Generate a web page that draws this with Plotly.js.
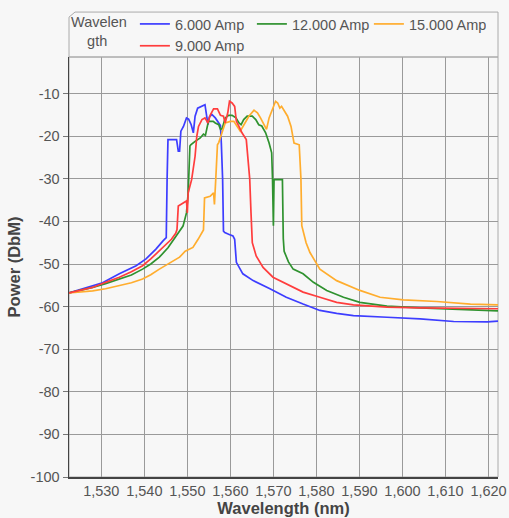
<!DOCTYPE html>
<html>
<head>
<meta charset="utf-8">
<script src="https://cdn.plot.ly/plotly-3.0.1.min.js"></script>
<style>
html,body{margin:0;padding:0;background:#f7f7f7;}
#chart{width:509px;height:518px;}
</style>
</head>
<body>
<div id="chart"></div>
<script>
// Series names / legend
const seriesNames = ['6.000 Amp', '9.000 Amp', '12.000 Amp', '15.000 Amp'];
const seriesColors = ['#3d3dff', '#ff3d3d', '#2f922f', '#ffad2e'];
const legendTitle = 'Wavelen<br>\u00a0\u00a0\u00a0\u00a0gth';

// 6.000 Amp
const amp6X = [1522.5,1525,1528,1530.3,1534.2,1538.1,1540.4,1542.7,1544.4,1545.1,1545.3,1545.5,1547.5,1547.9,1548.2,1548.5,1549.1,1549.8,1550.3,1550.9,1551.4,1551.8,1552.4,1553.4,1554.1,1554.5,1554.8,1555.1,1555.7,1556.5,1557.3,1557.7,1557.9,1558.2,1558.4,1558.7,1559.6,1560.6,1561.0,1561.4,1562.9,1565.3,1569.2,1573,1576.9,1580.8,1584.7,1588.6,1596.4,1604.1,1611.9,1619.7,1622.2];
const amp6Y = [-56.8,-56,-55.1,-54.4,-52.3,-50.4,-48.8,-46.5,-44.5,-43.8,-30,-20.8,-20.8,-23.5,-23.5,-18.8,-17.7,-15.7,-16,-17.3,-19.2,-15.3,-13.4,-13,-12.6,-15.3,-17.3,-15.5,-14.9,-15.7,-16.9,-17.5,-21.6,-30,-42.3,-42.6,-43,-43.4,-44.2,-49.6,-52.3,-53.9,-55.8,-57.8,-59.4,-60.9,-61.6,-62.1,-62.5,-62.9,-63.5,-63.6,-63.4];

// 9.000 Amp
const amp9X = [1522.5,1525,1528,1531,1534.2,1537,1539.6,1541.5,1543.5,1545,1546.3,1547.3,1547.6,1547.9,1549,1549.8,1550,1550.2,1551,1551.8,1552.2,1552.6,1553.4,1554.1,1554.8,1555.3,1556.1,1557,1557.7,1558.4,1558.8,1559.4,1559.8,1560.4,1561,1561.4,1562,1562.7,1563.7,1564.1,1564.5,1564.8,1565.1,1566,1567.6,1569.9,1573,1576.9,1580.8,1584.7,1588.6,1596.4,1604.1,1611.9,1622.2];
const amp9Y = [-56.8,-56.2,-55.5,-54.3,-53.1,-51.8,-50.4,-48.8,-46.9,-45.3,-44.2,-42.8,-41.9,-36.4,-35.6,-35.2,-38,-33.3,-30.2,-24.7,-20,-17.7,-16.1,-15.7,-16.9,-15.1,-13.6,-13.6,-15.1,-15.3,-16.9,-14.5,-11.8,-12.2,-13,-16.5,-17.7,-19.2,-20.8,-24.7,-30,-38,-45,-48.1,-50.8,-53.1,-54.7,-56.6,-57.8,-59,-59.6,-60.1,-60.3,-60.4,-60.5];

// 12.000 Amp
const amp12X = [1522.5,1525,1528,1531,1534.2,1537,1539.6,1541.5,1543.5,1545.5,1547.4,1549,1549.8,1550.2,1550.6,1550.8,1551.8,1553,1553.75,1554.2,1554.5,1554.9,1556,1556.5,1557.3,1557.7,1558.1,1558.8,1559.6,1560.4,1561.3,1562,1562.5,1563.1,1563.9,1565.1,1565.9,1566.6,1567.3,1568.2,1569,1569.6,1569.8,1570.0,1570.15,1572.1,1572.3,1572.5,1573.5,1574.6,1576.9,1579.3,1582.4,1586.3,1590.1,1596.4,1604.1,1611.9,1622.2];
const amp12Y = [-56.8,-56.2,-55.5,-54.6,-53.6,-52.6,-51.2,-50,-48.4,-46.2,-43.4,-41.1,-38,-33.3,-22.3,-22,-21.2,-20.4,-19.5,-19.8,-18.4,-16.5,-16.5,-16.9,-17.3,-18.4,-18.2,-15.7,-15.1,-15.1,-15.7,-16.9,-17.3,-16.1,-15.3,-15.3,-16.1,-17.3,-17.6,-19.2,-21.6,-23.9,-30.2,-41,-30.2,-30.2,-44,-47,-49.5,-51.2,-52.3,-54.3,-56.2,-57.8,-59,-59.9,-60.3,-60.6,-61];

// 15.000 Amp
const amp15X = [1522.5,1525,1528,1531,1534.2,1537,1539.6,1541.5,1543.5,1546,1548.2,1549.5,1551.3,1552.5,1553.75,1554.0,1555.3,1556.1,1556.3,1556.6,1557.0,1557.3,1558,1558.8,1560,1560.8,1561.6,1562.3,1563.4,1564.3,1565.5,1566.3,1567,1567.8,1568.4,1569,1569.8,1570.5,1571,1571.5,1571.9,1572.5,1573.3,1574.1,1574.8,1576,1576.4,1576.6,1577.6,1578.5,1580.8,1584.7,1590.1,1594.8,1600.2,1608,1615.8,1622.2];
const amp15Y = [-56.8,-56.6,-56.3,-55.8,-55.1,-54.4,-53.5,-52.5,-51.2,-49.8,-48.4,-47,-46.1,-44.2,-42,-34.5,-34.1,-33.3,-36,-30.2,-22,-21.5,-19.2,-16.9,-16.5,-16.5,-17.7,-18.8,-16.9,-15.3,-13.9,-14.5,-15.7,-17.3,-18.4,-15.7,-13.4,-11.8,-12.2,-13.4,-13,-14.1,-15.3,-17.7,-21.6,-22,-30,-41,-45,-47.3,-51.2,-53.9,-56.2,-57.8,-58.4,-58.8,-59.4,-59.6];

const xTickVals = [1530,1540,1550,1560,1570,1580,1590,1600,1610,1620];
const yTickVals = [-100,-90,-80,-70,-60,-50,-40,-30,-20,-10];
const yTickText = yTickVals.map(v => String(v));

const xs = [amp6X, amp9X, amp12X, amp15X];
const ys = [amp6Y, amp9Y, amp12Y, amp15Y];
// legend order: 6, 12, 15 on first row, 9 on second row
const order = [0, 2, 3, 1];
const traces = order.map(i => ({
  type: 'scatter', mode: 'lines',
  name: seriesNames[i], x: xs[i], y: ys[i],
  line: {color: seriesColors[i], width: 1.7}
}));

const font = 'Liberation Sans, Arial, sans-serif';
const layout = {
  width: 509, height: 518,
  margin: {l: 69, r: 11, t: 57, b: 41, autoexpand: false},
  paper_bgcolor: '#f7f7f7', plot_bgcolor: '#f7f7f7',
  font: {family: font, size: 14, color: '#555'},
  showlegend: true,
  legend: {
    orientation: 'h', x: 0, xanchor: 'left', y: 1.1167, yanchor: 'top',
    entrywidth: 72, entrywidthmode: 'pixels',
    title: {text: legendTitle, side: 'left', font: {size: 14.5, color: '#555'}},
    font: {size: 14.5, color: '#555'},
    bgcolor: 'rgba(0,0,0,0)', borderwidth: 0,
    tracegroupgap: 0, traceorder: 'normal', itemwidth: 30
  },
  xaxis: {
    range: [1522.5, 1622.2], tickvals: xTickVals, tickformat: ',d',
    showgrid: true, gridcolor: '#9a9a9a', gridwidth: 1,
    showline: true, linecolor: '#444', linewidth: 1.5,
    ticks: '', zeroline: false,
    tickfont: {size: 14.5, color: '#555'},
    title: {text: '<b>Wavelength (nm)</b>', font: {size: 16.5, color: '#444'}, standoff: 0}
  },
  yaxis: {
    range: [-100, -1.4], tickvals: yTickVals, ticktext: yTickText,
    showgrid: true, gridcolor: '#9a9a9a', gridwidth: 1,
    showline: true, linecolor: '#444', linewidth: 1.5,
    ticks: 'outside', ticklen: 5, tickcolor: '#777', zeroline: false,
    tickfont: {size: 14.5, color: '#555'},
    title: {text: '<b>Power (DbM)</b>', font: {size: 16.5, color: '#444'}, standoff: 6}
  },
  shapes: [
    {type: 'rect', xref: 'paper', yref: 'paper', x0: 0, x1: 1, y0: 0, y1: 1,
     line: {color: '#aaa', width: 1}, layer: 'below'},
    {type: 'path', xref: 'paper', yref: 'paper',
     path: 'M 0,1 L 0,1.095 L 0.014,1.107 L 1,1.107 L 1,1 Z',
     line: {color: '#aaa', width: 1}}
  ]
};

Plotly.newPlot('chart', traces, layout, {displayModeBar: false, staticPlot: true});
</script>
</body>
</html>
